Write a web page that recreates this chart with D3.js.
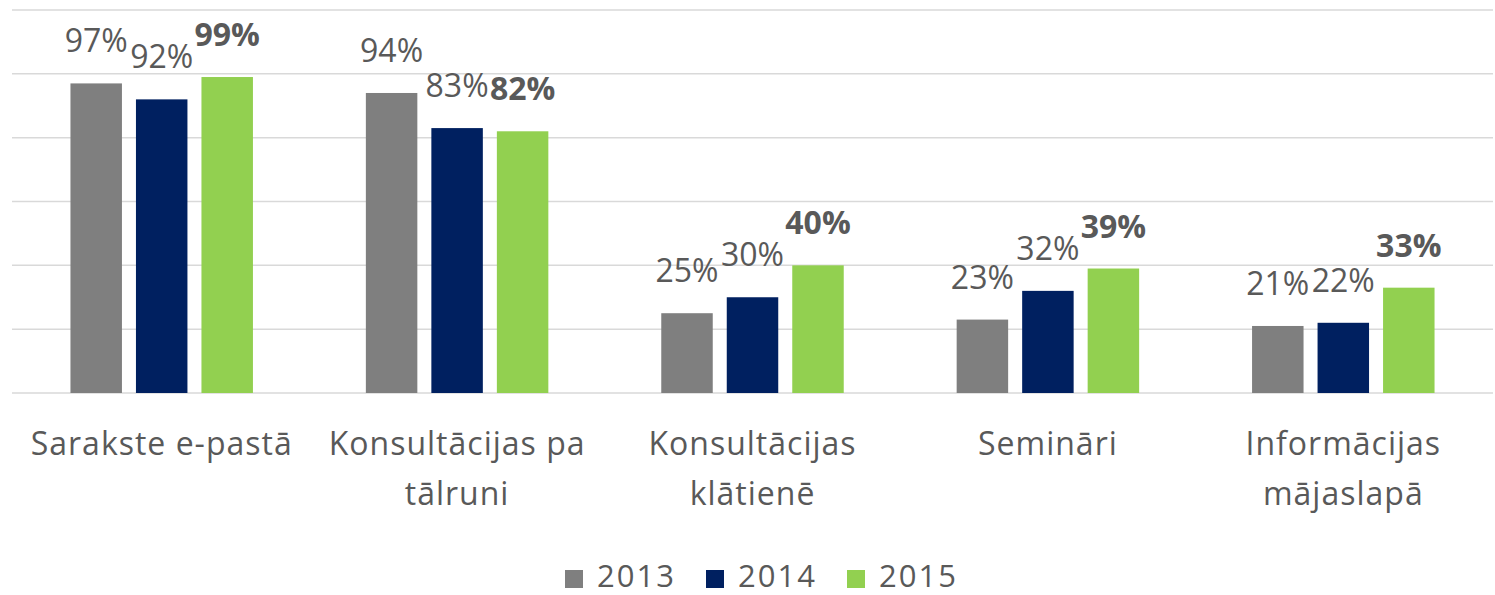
<!DOCTYPE html>
<html>
<head>
<meta charset="utf-8">
<script src="https://cdn.jsdelivr.net/npm/d3@7"></script>
<style>
	body { margin: 0; background: #fff; }
	svg text { font-family: "Open Sans", sans-serif; fill: #595959; }
</style>
</head>
<body>
<div id="chart"></div>
<script>
// data
var categories = ["Sarakste e-pastā", "Konsultācijas pa\ntālruni", "Konsultācijas\nklātienē", "Semināri", "Informācijas\nmājaslapā"];
var years = ["2013", "2014", "2015"];
var values2013 = [97, 94, 25, 23, 21];
var values2014 = [92, 83, 30, 32, 22];
var values2015 = [99, 82, 40, 39, 33];
var yTicks = [0, 20, 40, 60, 80, 100, 120];
var colors = ["#7f7f7f", "#002060", "#92d050"];

var series = [values2013, values2014, values2015];

var width = 1495, height = 595;

var svg = d3.select("#chart")
	.append("svg")
	.attr("width", width)
	.attr("height", height);

var x0 = d3.scaleBand()
	.domain(categories)
	.range([14, 1491]);

var x1 = d3.scaleBand()
	.domain(years)
	.range([0, x0.bandwidth()])
	.paddingInner(0.214)
	.paddingOuter(0.862);

var y = d3.scaleLinear()
	.domain([0, 120])
	.range([393, 10]);

// gridlines
svg.append("g")
	.selectAll("line")
	.data(yTicks)
	.enter().append("line")
	.attr("x1", 12)
	.attr("x2", 1493)
	.attr("y1", function(d) { return y(d); })
	.attr("y2", function(d) { return y(d); })
	.attr("stroke", "#d9d9d9")
	.attr("stroke-width", 1.5);

// bars
var groups = svg.append("g")
	.selectAll("g")
	.data(categories)
	.enter().append("g")
	.attr("transform", function(d) { return "translate(" + x0(d) + ",0)"; });

function rows(d, i) {
	return years.map(function(yr, j) { return {year: yr, v: series[j][i], j: j}; });
}

groups.selectAll("rect")
	.data(rows)
	.enter().append("rect")
	.attr("x", function(d) { return x1(d.year); })
	.attr("y", function(d) { return y(d.v); })
	.attr("width", x1.bandwidth())
	.attr("height", function(d) { return y(0) - y(d.v); })
	.attr("fill", function(d) { return colors[d.j]; });

// value labels
groups.selectAll("text.val")
	.data(rows)
	.enter().append("text")
	.attr("class", "val")
	.attr("x", function(d) { return x1(d.year) + x1.bandwidth() / 2; })
	.attr("y", function(d) { return y(d.v) - 31; })
	.attr("text-anchor", "middle")
	.style("font-size", "32px")
	.style("font-weight", function(d) { return d.j == 2 ? "bold" : "normal"; })
	.text(function(d) { return d.v + "%"; });

// category labels
var catLabels = svg.append("g")
	.selectAll("text")
	.data(categories)
	.enter().append("text")
	.attr("x", function(d) { return x0(d) + x0.bandwidth() / 2; })
	.attr("y", 455)
	.attr("text-anchor", "middle")
	.style("font-size", "32px")
	.style("letter-spacing", "1px");

catLabels.selectAll("tspan")
	.data(function(d) { return d.split("\n"); })
	.enter().append("tspan")
	.attr("x", function() { return d3.select(this.parentNode).attr("x"); })
	.attr("dy", function(d, i) { return i == 0 ? 0 : 50; })
	.text(function(d) { return d; });

// legend
var legend = svg.append("g")
	.selectAll("g")
	.data(years)
	.enter().append("g")
	.attr("transform", function(d, i) { return "translate(" + (565 + i * 141) + ",0)"; });

legend.append("rect")
	.attr("x", 0)
	.attr("y", 570)
	.attr("width", 18)
	.attr("height", 18)
	.attr("fill", function(d, i) { return colors[i]; });

legend.append("text")
	.attr("x", 32)
	.attr("y", 587)
	.style("font-size", "31px")
	.style("letter-spacing", "2px")
	.text(function(d) { return d; });
</script>
</body>
</html>
